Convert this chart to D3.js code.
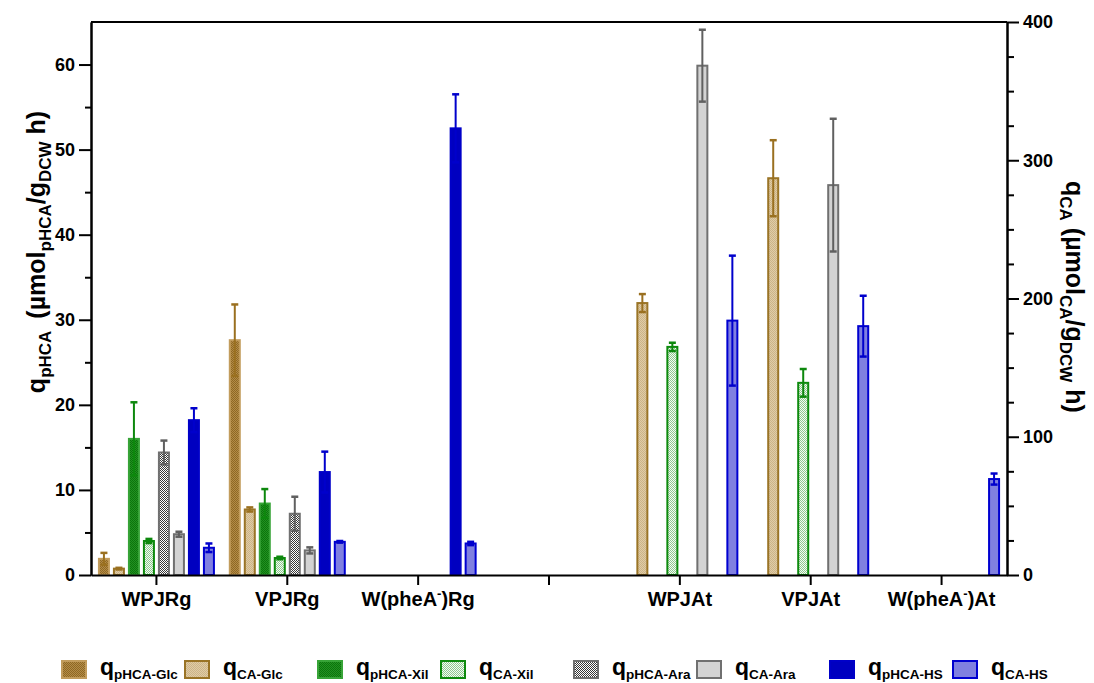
<!DOCTYPE html>
<html>
<head>
<meta charset="utf-8">
<style>
  body { margin: 0; background: #fff; }
  svg { font-family: "Liberation Sans", Arial, sans-serif; font-weight: bold; }
</style>
</head>
<body>
<svg width="1094" height="683"></svg>
<script src="https://d3js.org/d3.v7.min.js"></script>
<script>
// categories on the x axis ('' is the empty gap between the Rg and At strains)
const categories = ['WPJRg', 'VPJRg', 'W(pheA-)Rg', '', 'WPJAt', 'VPJAt', 'W(pheA-)At']
const series = ['pHCA-Glc', 'CA-Glc', 'pHCA-Xil', 'CA-Xil', 'pHCA-Ara', 'CA-Ara', 'pHCA-HS', 'CA-HS']

// q_pHCA series -> left axis, q_CA series -> right axis, null = not measured
const pHCA_Glc = [1.9, 27.6, null, null, null, null, null]
const pHCA_Glc_err = [0.7, 4.2, null, null, null, null, null]
const CA_Glc = [4.6, 47.4, null, null, 196.7, 287, null]
const CA_Glc_err = [0.6, 1.5, null, null, 6.5, 27.5, null]
const pHCA_Xil = [16.0, 8.4, null, null, null, null, null]
const pHCA_Xil_err = [4.3, 1.7, null, null, null, null, null]
const CA_Xil = [24.6, 12.3, null, null, 165, 139, null]
const CA_Xil_err = [1.5, 0.9, null, null, 3, 10, null]
const pHCA_Ara = [14.4, 7.2, null, null, null, null, null]
const pHCA_Ara_err = [1.4, 2.0, null, null, null, null, null]
const CA_Ara = [29.5, 17.8, null, null, 368.4, 282, null]
const CA_Ara_err = [1.8, 2.2, null, null, 26, 48, null]
const pHCA_HS = [18.2, 12.1, 52.5, null, null, null, null]
const pHCA_HS_err = [1.4, 2.4, 4.0, null, null, null, null]
const CA_HS = [19.7, 24.0, 22.8, null, 184, 180, 69.4]
const CA_HS_err = [3.1, 0.6, 1.2, null, 47, 22, 4]

const leftTicks = [0, 10, 20, 30, 40, 50, 60]
const rightTicks = [0, 100, 200, 300, 400]

const values = {
  'pHCA-Glc': [pHCA_Glc, pHCA_Glc_err], 'CA-Glc': [CA_Glc, CA_Glc_err],
  'pHCA-Xil': [pHCA_Xil, pHCA_Xil_err], 'CA-Xil': [CA_Xil, CA_Xil_err],
  'pHCA-Ara': [pHCA_Ara, pHCA_Ara_err], 'CA-Ara': [CA_Ara, CA_Ara_err],
  'pHCA-HS': [pHCA_HS, pHCA_HS_err], 'CA-HS': [CA_HS, CA_HS_err]
}

const style = {
  'pHCA-Glc': { fill: 'url(#p-glc-p)', stroke: '#c29c5c', err: '#9a7020' },
  'CA-Glc':   { fill: 'url(#p-glc-c)', stroke: '#9a7426', err: '#9a7020' },
  'pHCA-Xil': { fill: 'url(#p-xil-p)', stroke: '#38a438', err: '#0d880d' },
  'CA-Xil':   { fill: 'url(#p-xil-c)', stroke: '#0d8a0d', err: '#0d880d' },
  'pHCA-Ara': { fill: 'url(#p-ara-p)', stroke: '#707070', err: '#606060' },
  'CA-Ara':   { fill: '#d3d3d3', stroke: '#707070', err: '#606060' },
  'pHCA-HS':  { fill: '#0000c0', stroke: '#0000c8', err: '#0000cc' },
  'CA-HS':    { fill: '#8080e0', stroke: '#0000d0', err: '#0000cc' }
}

const svg = d3.select('svg')
const margin = { top: 22, right: 87, bottom: 108, left: 91 }
const W = 1094, H = 683
const x0 = margin.left, x1 = W - margin.right, yTop = margin.top, yBot = H - margin.bottom

// patterns
const defs = svg.append('defs')
function checker(id, base, dot) {
  const p = defs.append('pattern').attr('id', id).attr('width', 2).attr('height', 2)
    .attr('patternUnits', 'userSpaceOnUse')
  p.append('rect').attr('width', 2).attr('height', 2).attr('fill', base)
  p.append('rect').attr('width', 1).attr('height', 1).attr('fill', dot)
  p.append('rect').attr('x', 1).attr('y', 1).attr('width', 1).attr('height', 1).attr('fill', dot)
}
checker('p-glc-p', '#b48c48', '#8e6824')
checker('p-glc-c', '#e0cca6', '#ccb488')
checker('p-xil-p', '#229222', '#0c740c')
checker('p-xil-c', '#f4fbf4', '#90c890')
checker('p-ara-p', '#ffffff', '#383838')

const x = d3.scaleBand().domain(categories).range([x0, x1])
const inner = d3.scaleBand().domain(series).range([-60, 60])
const yL = d3.scaleLinear().domain([0, 65]).range([yBot, yTop])
const yR = d3.scaleLinear().domain([0, 400]).range([yBot, yTop])
const yFor = s => s.startsWith('pHCA') ? yL : yR

// bars + error bars
series.forEach(s => {
  const [vals, errs] = values[s]
  const sc = yFor(s)
  const st = style[s]
  const g = svg.append('g')
  vals.forEach((v, i) => {
    if (v == null) return
    const cx = x(categories[i]) + x.bandwidth() / 2 + inner(s) + inner.bandwidth() / 2
    g.append('rect')
      .attr('x', cx - 5).attr('width', 10)
      .attr('y', sc(v)).attr('height', sc(0) - sc(v))
      .attr('fill', st.fill).attr('stroke', st.stroke).attr('stroke-width', 2)
    const e = errs[i]
    if (e) {
      const yHi = sc(v + e), yLo = sc(v - e)
      g.append('line').attr('x1', cx).attr('x2', cx).attr('y1', yHi).attr('y2', yLo)
        .attr('stroke', st.err).attr('stroke-width', 2)
      ;[yHi, yLo].forEach(yy => g.append('line')
        .attr('x1', cx - 3.5).attr('x2', cx + 3.5).attr('y1', yy).attr('y2', yy)
        .attr('stroke', st.err).attr('stroke-width', 2.5))
    }
  })
})

// top frame line
svg.append('line').attr('x1', x0).attr('x2', x1).attr('y1', yTop).attr('y2', yTop)
  .attr('stroke', '#000').attr('stroke-width', 2)

function styleAxis(g) {
  g.selectAll('path, line').attr('stroke', '#000').attr('stroke-width', 2)
  g.selectAll('text').attr('fill', '#000').attr('font-size', 18)
    .attr('font-family', '"Liberation Sans", Arial, sans-serif').attr('font-weight', 'bold')
}

// left axis
svg.append('g').attr('transform', `translate(${x0},0)`)
  .call(d3.axisLeft(yL).tickValues(d3.range(5, 65, 10)).tickSize(6).tickSizeOuter(0).tickFormat(''))
  .call(styleAxis)
svg.append('g').attr('transform', `translate(${x0},0)`)
  .call(d3.axisLeft(yL).tickValues(leftTicks).tickSize(12).tickPadding(4).tickSizeOuter(0))
  .call(styleAxis)

// right axis
svg.append('g').attr('transform', `translate(${x1},0)`)
  .call(d3.axisRight(yR).tickValues(d3.range(25, 400, 25).filter(v => v % 100)).tickSize(7).tickSizeOuter(0).tickFormat(''))
  .call(styleAxis)
svg.append('g').attr('transform', `translate(${x1},0)`)
  .call(d3.axisRight(yR).tickValues(rightTicks).tickSize(12).tickPadding(4).tickSizeOuter(0))
  .call(styleAxis)

// x axis
const xa = svg.append('g').attr('transform', `translate(0,${yBot})`)
  .call(d3.axisBottom(x).tickSize(10).tickPadding(7).tickSizeOuter(0))
  .call(styleAxis)
xa.selectAll('.tick text').attr('font-size', 20).each(function (d) {
  if (!d.includes('-')) return
  const t = d3.select(this).text(null)
  const [a, b] = d.split('-')
  t.append('tspan').text(a)
  t.append('tspan').text('-').attr('font-size', 13).attr('dy', -8)
  t.append('tspan').text(b).attr('dy', 8)
})

// axis titles
function subText(t, parts, big, small) {
  parts.forEach(([txt, sub, dx]) => {
    const sp = t.append('tspan').text(txt)
    if (sub === 1) sp.attr('font-size', small).attr('dy', 6)
    else if (sub === -1) sp.attr('font-size', big).attr('dy', -6)
    else sp.attr('font-size', big)
    if (dx) sp.attr('dx', dx)
  })
}
const lt = svg.append('text').attr('text-anchor', 'middle')
  .attr('transform', 'translate(45,252) rotate(-90)')
subText(lt, [['q', 0], ['pHCA', 1], ['(µmol', -1, 12], ['pHCA', 1], ['/g', -1], ['DCW', 1], [' h)', -1]], 25, 17)

const rt = svg.append('text').attr('text-anchor', 'middle')
  .attr('transform', 'translate(1066,297) rotate(90)')
subText(rt, [['q', 0], ['CA', 1], [' (µmol', -1], ['CA', 1], ['/g', -1], ['DCW', 1], [' h)', -1]], 25, 17)

// legend
const leg = svg.append('g')
series.forEach((s, i) => {
  const pair = Math.floor(i / 2), k = i % 2
  const lx = 62 + pair * 256 + k * 123
  const ly = 661
  leg.append('rect').attr('x', lx).attr('y', ly).attr('width', 24).attr('height', 17)
    .attr('fill', style[s].fill).attr('stroke', style[s].stroke).attr('stroke-width', 2)
  const t = leg.append('text').attr('x', lx + 38).attr('y', ly + 14)
  t.append('tspan').text('q').attr('font-size', 23)
  t.append('tspan').text(s).attr('font-size', 13.5).attr('dy', 4)
})
</script>
</body>
</html>
